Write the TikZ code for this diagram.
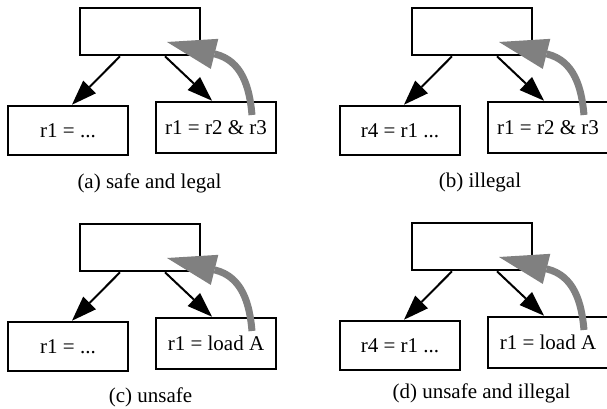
\documentclass[tikz,border=0pt]{standalone}
\usepackage{fontspec}
\setmainfont{Liberation Serif}
\usetikzlibrary{arrows.meta}
\definecolor{arrgray}{RGB}{128,128,128}
\tikzset{
  box/.style={draw, line width=2.6pt, minimum width=120pt, inner sep=0pt, font=\fontsize{21}{25}\selectfont},
  captext/.style={font=\fontsize{21}{25}\selectfont, inner sep=0pt},
  blackarr/.style={line width=2pt, -{Triangle[length=25pt,width=18pt,line width=0pt]}},
  grayarr/.style={color=arrgray, line width=7pt, -{Triangle[length=49pt,width=31pt,line width=0pt]}}
}
\newcommand\drawpanel[8]{%
  \begin{scope}[shift={(#2pt,#3pt)}]
    \node[box, minimum height=47pt] (#1top) at (140pt,377.5pt) {};
    \node[box, minimum height=49pt] (#1left) at (68pt,278.5pt) {#4};
    \node[box, minimum height=51pt] (#1right) at (216pt,281.5pt) {#5};
    \draw[blackarr] ([xshift=-20pt]#1top.south) -- ([xshift=4pt]#1left.north);
    \draw[blackarr] ([xshift=25pt]#1top.south) -- ([xshift=-4pt]#1right.north);
    \coordinate (#1s) at (252pt,294pt);
    \coordinate (#1b) at (215pt,355pt);
    \coordinate (#1t) at (167pt,367pt);
    \draw[grayarr] (#1s) to[out=95,in=-14] (#1b) -- (#1t);
  \end{scope}
  \node[captext] (#1cap) at (#7pt,#8pt) {#6};
}
\begin{document}
\begin{tikzpicture}
  \fill[white] (0,0) rectangle (607pt,409pt);
  \useasboundingbox (0,0) rectangle (607pt,409pt);
  \drawpanel{a}{0}{0}{r1 = ...}{r1 = r2 \& r3}{(a) safe and legal}{149.5}{226}
  \drawpanel{b}{332}{0}{r4 = r1 ...}{r1 = r2 \& r3}{(b) illegal}{480}{227}
  \drawpanel{c}{0}{-216}{r1 = ...}{r1 = load A}{(c) unsafe}{150.5}{12}
  \drawpanel{d}{332}{-215}{r4 = r1 ...}{r1 = load A}{(d) unsafe and illegal}{481.5}{16}
\end{tikzpicture}
\end{document}
